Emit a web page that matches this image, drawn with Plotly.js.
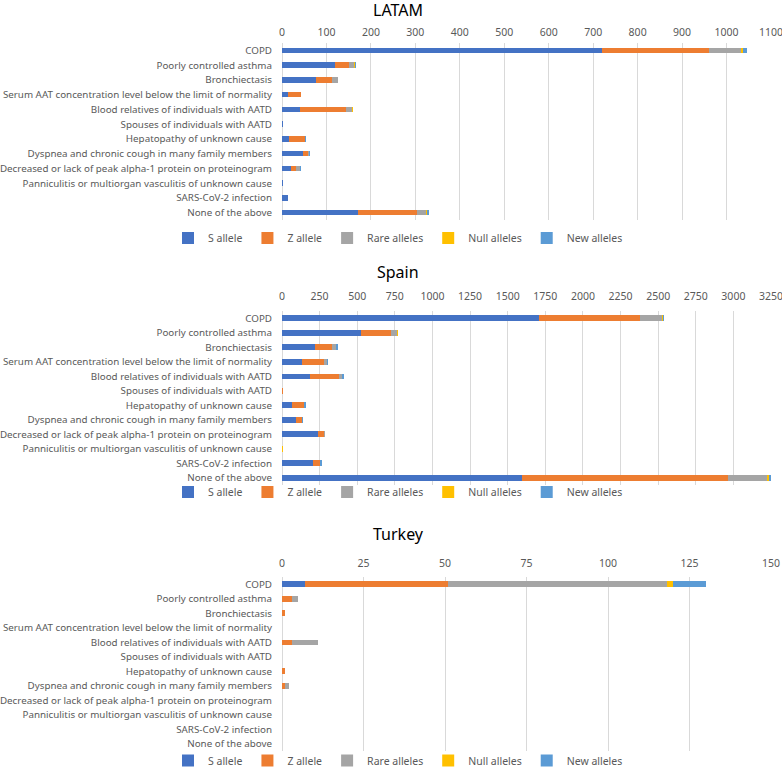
<!DOCTYPE html>
<html>
<head>
<meta charset="utf-8">
<script src="https://cdn.plot.ly/plotly-3.0.1.min.js"></script>
<style>
  html, body { margin: 0; padding: 0; background: #fff; }
  #chart { width: 782px; height: 775px; }
</style>
</head>
<body>
<div id="chart"></div>
<script>
// categories (top to bottom)
const categories = [
  'COPD',
  'Poorly controlled asthma',
  'Bronchiectasis',
  'Serum AAT concentration level below the limit of normality',
  'Blood relatives of individuals with AATD',
  'Spouses of individuals with AATD',
  'Hepatopathy of unknown cause',
  'Dyspnea and chronic cough in many family members',
  'Decreased or lack of peak alpha-1 protein on proteinogram',
  'Panniculitis or multiorgan vasculitis of unknown cause',
  'SARS-CoV-2 infection',
  'None of the above'
];

const alleleNames = ['S allele', 'Z allele', 'Rare alleles', 'Null alleles', 'New alleles'];
const alleleColors = ['#4472C4', '#ED7D31', '#A5A5A5', '#FFC000', '#5B9BD5'];

// LATAM
const latamS    = [720, 120, 76, 13, 40, 2, 15, 47, 21, 2, 13, 171];
const latamZ    = [241, 31, 36, 29, 103, 0, 36, 12, 11, 0, 1, 133];
const latamRare = [72, 11, 13, 1, 15, 0, 0, 2, 9, 0, 0, 20];
const latamNull = [5, 3, 0, 0, 2, 0, 0, 0, 0, 0, 0, 2];
const latamNew  = [7, 1, 2, 0, 0, 1, 2, 1, 1, 1, 0, 5];

// Spain
const spainS    = [1705, 522, 222, 133, 189, 3, 69, 96, 236, 0, 207, 1594];
const spainZ    = [674, 200, 109, 143, 189, 4, 78, 35, 44, 2, 44, 1369];
const spainRare = [144, 45, 31, 26, 24, 0, 0, 0, 5, 0, 0, 260];
const spainNull = [11, 4, 0, 0, 0, 0, 0, 0, 0, 4, 0, 13];
const spainNew  = [7, 3, 7, 5, 7, 0, 11, 7, 4, 0, 13, 14];

// Turkey
const turkeyS    = [7, 0, 0, 0, 0, 0, 0, 0, 0, 0, 0, 0];
const turkeyZ    = [44, 3, 1, 0, 3, 0, 1, 1, 0, 0, 0, 0];
const turkeyRare = [67, 2, 0, 0, 8, 0, 0, 1, 0, 0, 0, 0];
const turkeyNull = [2, 0, 0, 0, 0, 0, 0, 0, 0, 0, 0, 0];
const turkeyNew  = [10, 0, 0, 0, 0, 0, 0, 0, 0, 0, 0, 0];

const regions = [
  { title: 'LATAM', series: [latamS, latamZ, latamRare, latamNull, latamNew], max: 1100, dtick: 100,
    top: 43, bottom: 220, tickGap: 2, titleY: 10, legendY: 238 },
  { title: 'Spain', series: [spainS, spainZ, spainRare, spainNull, spainNew], max: 3250, dtick: 250,
    top: 311, bottom: 485, tickGap: 6, titleY: 272, legendY: 492 },
  { title: 'Turkey', series: [turkeyS, turkeyZ, turkeyRare, turkeyNull, turkeyNew], max: 150, dtick: 25,
    top: 577, bottom: 751, tickGap: 5, titleY: 534, legendY: null }
];

const W = 782, H = 775;
const L = 282, R = 11;
const font = 'Noto Sans, sans-serif';
const textColor = '#595959';
// paper x is relative to the plot area, so convert a pixel position
const px = x => (x - L) / (W - L - R);

const traces = [];
const layout = {
  width: W,
  height: H,
  margin: { l: L, r: R, t: 0, b: 0, pad: 0 },
  paper_bgcolor: '#fff',
  plot_bgcolor: '#fff',
  barmode: 'stack',
  bargap: 0.62,
  font: { family: font, size: 10, color: textColor },
  annotations: [],
  hovermode: false
};

regions.forEach((reg, r) => {
  const n = r === 0 ? '' : String(r + 1);
  const legendKey = 'legend' + n;

  reg.series.forEach((vals, i) => {
    traces.push({
      type: 'bar',
      orientation: 'h',
      name: alleleNames[i],
      x: vals,
      y: categories,
      xaxis: 'x' + n,
      yaxis: 'y' + n,
      legend: legendKey,
      marker: { color: alleleColors[i], line: { width: 0 } }
    });
  });

  layout['xaxis' + n] = {
    anchor: 'y' + n,
    side: 'top',
    range: [0, reg.max * 1.00001],
    tick0: 0,
    dtick: reg.dtick,
    showgrid: true,
    gridcolor: '#D9D9D9',
    gridwidth: 1,
    zeroline: true,
    zerolinecolor: '#D9D9D9',
    zerolinewidth: 1,
    showline: false,
    // invisible ticks just push the labels up
    ticks: 'outside',
    ticklen: reg.tickGap,
    tickcolor: 'rgba(0,0,0,0)',
    ticklabeloverflow: 'allow',
    tickfont: { family: font, size: 10.5, color: textColor },
    fixedrange: true
  };
  layout['yaxis' + n] = {
    anchor: 'x' + n,
    domain: [1 - reg.bottom / H, 1 - reg.top / H],
    type: 'category',
    categoryorder: 'array',
    categoryarray: categories,
    autorange: 'reversed',
    showgrid: false,
    zeroline: false,
    showline: false,
    ticks: '',
    ticklabelstandoff: 9,
    tickfont: { family: font, size: 9.8, color: textColor },
    fixedrange: true
  };
  layout[legendKey] = {
    orientation: 'h',
    x: px(398),
    xanchor: 'center',
    y: reg.legendY === null ? 0 : 1 - reg.legendY / H,
    yanchor: reg.legendY === null ? 'bottom' : 'middle',
    xref: 'paper',
    yref: 'paper',
    itemwidth: 30,
    traceorder: 'normal',
    font: { family: font, size: 10.5, color: textColor },
    bgcolor: 'rgba(0,0,0,0)'
  };
  layout.annotations.push({
    text: reg.title,
    xref: 'paper',
    yref: 'paper',
    x: px(398),
    y: 1 - reg.titleY / H,
    xanchor: 'center',
    yanchor: 'middle',
    showarrow: false,
    font: { family: font, size: 16, color: '#000' }
  });
});

Plotly.newPlot('chart', traces, layout, { displayModeBar: false, staticPlot: true });
</script>
</body>
</html>
